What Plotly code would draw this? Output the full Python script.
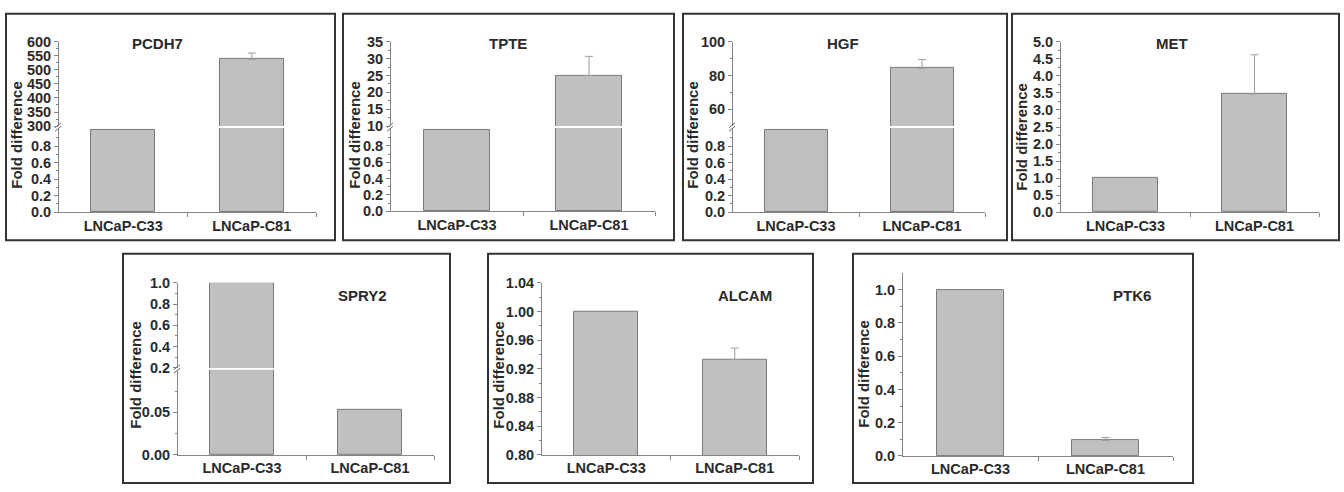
import plotly.graph_objects as go

W, H = 1344, 492

# ---------------- data ----------------
genes = ["PCDH7", "TPTE", "HGF", "MET", "SPRY2", "ALCAM", "PTK6"]
categories = ["LNCaP-C33", "LNCaP-C81"]
c33_values = [1.0, 1.0, 1.0, 1.0, 1.0, 1.0, 1.0]
c81_values = [538.0, 25.0, 84.3, 3.47, 0.0527, 0.933, 0.093]
c81_errors = [22.0, 5.7, 5.2, 1.15, 0.0042, 0.016, 0.018]

# y-axis tick labels per panel segment (lower segment first)
ticks_pcdh7 = [[0, 0.2, 0.4, 0.6, 0.8], [300, 350, 400, 450, 500, 550, 600]]
ticks_tpte = [[0, 0.2, 0.4, 0.6, 0.8], [10, 15, 20, 25, 30, 35]]
ticks_hgf = [[0, 0.2, 0.4, 0.6, 0.8], [60, 80, 100]]
ticks_met = [[0, 0.5, 1.0, 1.5, 2.0, 2.5, 3.0, 3.5, 4.0, 4.5, 5.0]]
ticks_spry2 = [[0, 0.05], [0.2, 0.4, 0.6, 0.8, 1.0]]
ticks_alcam = [[0.80, 0.84, 0.88, 0.92, 0.96, 1.00, 1.04]]
ticks_ptk6 = [[0, 0.2, 0.4, 0.6, 0.8, 1.0]]

# ---------------- layout specs (pixel positions) ----------------
lower_minor = [0.1, 0.3, 0.5, 0.7, 0.9]
panels = [
    dict(box=(6, 6, 335, 240), x0=59, x1=316, title=(157, 37), ytitle=(17, 131),
         segs=[dict(py=(211, 124), rng=[0, 1.02], ticks=ticks_pcdh7[0], fmt="{:.1f}", minor=lower_minor),
               dict(py=(122, 35), rng=[300, 600], ticks=ticks_pcdh7[1], fmt="{:d}",
                    minor=[325, 375, 425, 475, 525, 575])]),
    dict(box=(343, 6, 674, 240), x0=391, x1=655, title=(508, 37), ytitle=(355, 131),
         segs=[dict(py=(210, 124), rng=[0, 1.02], ticks=ticks_tpte[0], fmt="{:.1f}", minor=lower_minor),
               dict(py=(122, 35), rng=[10, 35], ticks=ticks_tpte[1], fmt="{:d}",
                    minor=[12.5, 17.5, 22.5, 27.5, 32.5])]),
    dict(box=(683, 6, 1007, 240), x0=733, x1=985, title=(843, 37), ytitle=(693, 131),
         segs=[dict(py=(211, 124), rng=[0, 1.02], ticks=ticks_hgf[0], fmt="{:.1f}", minor=lower_minor),
               dict(py=(122, 35), rng=[50, 100], ticks=ticks_hgf[1], fmt="{:d}", minor=[70, 90])]),
    dict(box=(1012, 6, 1339, 240), x0=1061, x1=1319, title=(1172, 37), ytitle=(1022, 133),
         segs=[dict(py=(211, 35), rng=[0, 5], ticks=ticks_met[0], fmt="{:.1f}",
                    minor=[0.25 + 0.5 * i for i in range(10)])]),
    dict(box=(123, 254, 450, 491), x0=178, x1=434, title=(362, 297), ytitle=(136, 379),
         segs=[dict(py=(462, 374), rng=[0, 0.1], ticks=ticks_spry2[0], fmt="{:.2f}", minor=[0.025, 0.075]),
               dict(py=(372, 284), rng=[0.2, 1.0], ticks=ticks_spry2[1], fmt="{:.1f}",
                    minor=[0.3, 0.5, 0.7, 0.9])]),
    dict(box=(488, 254, 813, 491), x0=542, x1=799, title=(745, 297), ytitle=(499, 379),
         segs=[dict(py=(462, 284), rng=[0.80, 1.04], ticks=ticks_alcam[0], fmt="{:.2f}",
                    minor=[0.82, 0.86, 0.90, 0.94, 0.98, 1.02])]),
    dict(box=(853, 254, 1193, 491), x0=903, x1=1173, title=(1132, 297), ytitle=(864, 378),
         segs=[dict(py=(463, 274), rng=[0, 1.1], ticks=ticks_ptk6[0], fmt="{:.1f}",
                    minor=[0.1, 0.3, 0.5, 0.7, 0.9])]),
]

AXC = "#858585"
TXC = "#2a2a2a"
BAR_FILL = "#c0c0c3"
BAR_LINE = "#7a7a7a"
FONT = "Liberation Sans"
TICKFONT = dict(family=FONT, size=14.5, color=TXC, weight="bold")


def fx(px):
    return px / W


def fy(py):
    return 1 - py / H


fig = go.Figure()
layout = {}
shapes = []
annotations = []
k = 0
for p, gene, v33, v81, e81 in zip(panels, genes, c33_values, c81_values, c81_errors):
    # panel frame
    bx0, by0, bx1, by1 = p["box"]
    shapes.append(dict(type="rect", xref="paper", yref="paper",
                       x0=fx(bx0), x1=fx(bx1), y0=fy(by1), y1=fy(by0),
                       line=dict(color="#333333", width=2), fillcolor="rgba(0,0,0,0)"))
    nseg = len(p["segs"])
    for si, seg in enumerate(p["segs"]):
        k += 1
        xn = "xaxis" if k == 1 else f"xaxis{k}"
        yn = "yaxis" if k == 1 else f"yaxis{k}"
        xr = "x" if k == 1 else f"x{k}"
        yr = "y" if k == 1 else f"y{k}"
        is_top = si == nseg - 1
        bar_style = dict(color=BAR_FILL, line=dict(color=BAR_LINE, width=1))
        # C33 bar (no error)
        fig.add_trace(go.Bar(x=[0], y=[v33], width=0.5, xaxis=xr, yaxis=yr,
                             marker=bar_style, showlegend=False, hoverinfo="skip"))
        # C81 bar with upward error bar
        err = dict(type="data", symmetric=False, array=[e81], arrayminus=[0],
                   color="#9c9c9c", thickness=1, width=4, visible=is_top)
        fig.add_trace(go.Bar(x=[1], y=[v81], width=0.5, xaxis=xr, yaxis=yr,
                             marker=bar_style, error_y=err,
                             showlegend=False, hoverinfo="skip"))
        bottom = si == 0
        layout[xn] = dict(domain=[fx(p["x0"]), fx(p["x1"])], range=[-0.5, 1.5], anchor=yr,
                          showgrid=False, zeroline=False, fixedrange=True,
                          visible=bottom, showline=True, linecolor=AXC, linewidth=1,
                          tickvals=[0, 1], ticktext=categories, ticks="",
                          tickfont=TICKFONT,
                          minor=dict(tickvals=[0.5, 1.5], ticks="outside", ticklen=4,
                                     tickcolor=AXC, tickwidth=1))
        py_b, py_t = seg["py"]
        layout[yn] = dict(domain=[fy(py_b), fy(py_t)], range=seg["rng"], anchor=xr,
                          showgrid=False, zeroline=False, fixedrange=True,
                          showline=True, linecolor=AXC, linewidth=1,
                          tickvals=seg["ticks"],
                          ticktext=[seg["fmt"].format(int(t) if seg["fmt"] == "{:d}" else t)
                                    for t in seg["ticks"]],
                          ticks="outside", ticklen=4, tickcolor=AXC, tickwidth=1,
                          tickfont=TICKFONT,
                          minor=dict(tickvals=seg["minor"], ticks="outside", ticklen=2,
                                     tickcolor=AXC, tickwidth=1))
    # axis break marks
    if nseg == 2:
        yb = (p["segs"][0]["py"][1] + p["segs"][1]["py"][0]) / 2
        x0 = p["x0"]
        for dy in (-1.8, 1.8):
            shapes.append(dict(type="line", xref="paper", yref="paper",
                               x0=fx(x0 - 4), y0=fy(yb + dy + 2.5),
                               x1=fx(x0 + 2), y1=fy(yb + dy - 2.5),
                               line=dict(color="#6f6f6f", width=1)))
    # gene title
    annotations.append(dict(text=f"<b>{gene}</b>", xref="paper", yref="paper",
                            x=fx(p["title"][0]), y=fy(p["title"][1]), showarrow=False,
                            xanchor="center", yanchor="middle",
                            font=dict(family=FONT, size=15, color=TXC)))
    # y-axis title
    annotations.append(dict(text="<b>Fold difference</b>", xref="paper", yref="paper",
                            x=fx(p["ytitle"][0]), y=fy(p["ytitle"][1]), showarrow=False,
                            textangle=-90, xanchor="center", yanchor="middle",
                            font=dict(family=FONT, size=15, color=TXC)))

fig.update_layout(width=W, height=H, margin=dict(l=0, r=0, t=0, b=0),
                  paper_bgcolor="white", plot_bgcolor="rgba(0,0,0,0)",
                  barmode="overlay", bargap=0,
                  shapes=shapes, annotations=annotations, **layout)

fig.write_html("out.html", config={"displayModeBar": False},
               post_script="document.body.style.margin='0';document.body.style.overflow='hidden';")
